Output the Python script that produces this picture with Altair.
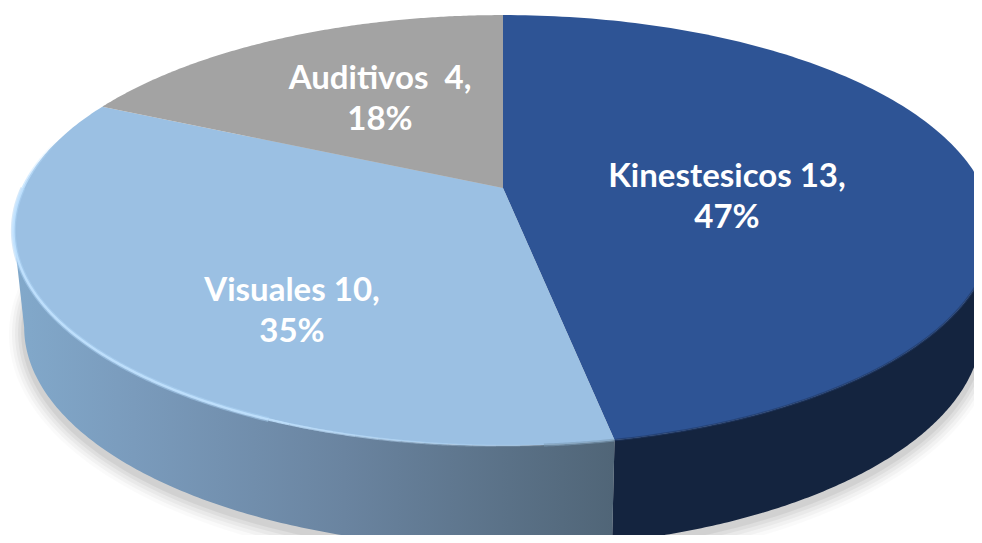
import math
import altair as alt

# Chart values
categories = ["Kinestesicos", "Visuales", "Auditivos"]
counts = ["13", "10", "\u00a04"]
shares = [47, 35, 18]
top_colors = ["#2e5495", "#9bc0e3", "#a3a3a3"]

# Page-to-chart offset and pie geometry (perspective ellipse)
MX, MY = 8, 8
AX, AY = 503, 188
A, B, K = 480, 207, 0.197
SX, SY, AY2 = 0.978, 1.024, 284
N = 160


def pt(theta, ax=AX, ay=AY, sx=1.0, sy=1.0, grow=0.0):
    u, v = math.sin(theta), math.cos(theta)
    w = 1 + K * v
    return [ax + (A * sx + grow) * u / w - MX, ay - (B * sy + grow) * v / w - MY]


def arc(t0, t1, n=N, **kw):
    return [pt(t0 + (t1 - t0) * i / n, **kw) for i in range(n + 1)]


def poly(ring):
    return {"type": "Feature", "properties": {}, "geometry": {"type": "Polygon", "coordinates": [ring + [ring[0]]]}}


def line(points):
    return {"type": "Feature", "properties": {}, "geometry": {"type": "LineString", "coordinates": points}}


proj = dict(type="identity", scale=1, translate=[0, 0])


def shape(feature, **mark):
    return alt.Chart(alt.Data(values=[feature])).mark_geoshape(**mark).project(**proj)


TAU = 2 * math.pi
edges = [0.0]
for s in shares:
    edges.append(edges[-1] + s / sum(shares) * TAU)

layers = []

# Soft drop shadow beneath the base of the pie
for g, op in [(15, 0.02), (12, 0.03), (9, 0.035), (6, 0.045), (3, 0.055)]:
    ring = arc(0, TAU, 240, ay=AY2 + 4, sx=SX, sy=SY, grow=g)
    layers.append(shape(poly(ring), fill="#000000", fillOpacity=op, stroke=None))

# Side walls (front half only, between the widest points)
lo = math.pi / 2 + math.asin(K)
mid = edges[1]
hi = 1.5 * math.pi - math.asin(K)


def wall(t0, t1):
    return arc(t0, t1) + arc(t1, t0, ay=AY2, sx=SX, sy=SY)


layers.append(shape(poly(wall(lo, mid)), fill="#14243f", stroke=None))
layers.append(
    shape(
        poly(wall(mid, hi)),
        stroke=None,
        fill=alt.Gradient(
            gradient="linear",
            x1=1, x2=0, y1=0, y2=0,
            stops=[
                alt.GradientStop(color="#506577", offset=0),
                alt.GradientStop(color="#6a84a0", offset=0.45),
                alt.GradientStop(color="#7a9bbc", offset=0.8),
                alt.GradientStop(color="#82a9cb", offset=1),
            ],
        ),
    )
)

# Top faces
for i, c in enumerate(top_colors):
    ring = [[AX - MX, AY - MY]] + arc(edges[i], edges[i + 1])
    layers.append(shape(poly(ring), fill=c, stroke=None))

# Bevelled rim
dark = arc(lo - 0.2, mid)
layers.append(shape(line(dark), filled=False, stroke="#1f3866", strokeWidth=2.5, strokeOpacity=0.6))
layers.append(shape(line(arc(mid, mid + 0.12, 30)), filled=False, stroke="#7d9cb8", strokeWidth=3, strokeOpacity=0.6))
# highlight fades in from the front, runs round the left edge, fades out at the top
steps = 12
r0, r1 = mid + 0.12, mid + 0.6
for j in range(steps):
    a = r0 + (r1 - r0) * j / steps
    b = r0 + (r1 - r0) * (j + 1) / steps
    f = (j + 1) / steps
    layers.append(shape(line(arc(a, b, 12)), filled=False, stroke="#c2e3ff", strokeWidth=2.5, strokeOpacity=0.85 * f))
rim = arc(r1, math.pi * 1.5)
layers.append(shape(line(rim), filled=False, stroke="#aed4f6", strokeWidth=5, strokeOpacity=0.5))
layers.append(shape(line(rim), filled=False, stroke="#c2e3ff", strokeWidth=2.5, strokeOpacity=0.85))
e0, e1 = math.pi * 1.5, math.pi * 1.58
for j in range(steps):
    a = e0 + (e1 - e0) * j / steps
    b = e0 + (e1 - e0) * (j + 1) / steps
    f = 1 - (j + 1) / steps
    layers.append(shape(line(arc(a, b, 12)), filled=False, stroke="#c2e3ff", strokeWidth=3, strokeOpacity=0.85 * f))

# Labels: first-line centres
label_pos = [(727, 177), (292, 291), (380, 79)]
for cat, cnt, sh, (lx, ly) in zip(categories, counts, shares, label_pos):
    txt = f"{cat} {cnt},\n{sh}%"
    layers.append(
        alt.Chart(alt.Data(values=[{"t": txt}]))
        .mark_text(font="Lato", fontSize=33, fontWeight="bold", color="#ffffff", lineBreak="\n", lineHeight=41, align="center", baseline="middle")
        .encode(text="t:N", x=alt.value(lx - MX), y=alt.value(ly - MY))
    )

chart = (
    alt.layer(*layers)
    .properties(width=966, height=527, padding=0, autosize=alt.AutoSizeParams(type="none"), background="#ffffff")
    .configure_view(stroke=None)
)
chart.save("out.html", embed_options={"renderer": "svg", "actions": False})
